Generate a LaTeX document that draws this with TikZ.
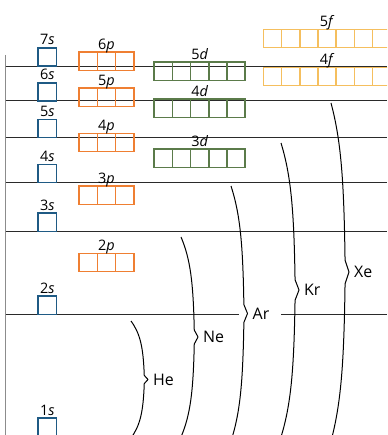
\documentclass[tikz,border=0pt]{standalone}
\usepackage{fontspec}
\setmainfont{Open Sans}
\definecolor{sorb}{HTML}{1F5A84}
\definecolor{porb}{HTML}{EF7F32}
\definecolor{dorb}{HTML}{5B7B4A}
\definecolor{forb}{HTML}{F5BF5E}
\definecolor{levelgray}{HTML}{2A2A2A}
\definecolor{axisgray}{HTML}{8C8C8C}

% row of n orbital cells, top-left corner at (#1,#2)
\newcommand\cellrow[4]{%
  \foreach \k in {1,...,#3}{%
    \draw[orbbox,#4] ({#1+(\k-1)*18.2},#2) rectangle ++(18.2,18.2);
  }%
}
% orbital label centred above a row of cells
\newcommand\orblabel[5]{%
  \node[orbtext] (#5) at ({#1+#3*9.1},{#2-3}) {#4};
}
% long curly brace: top end (#1,#2), tip (#3,#4), bottom end mirrored
\newcommand\shellbrace[5]{%
  \pgfmathsetmacro\bw{#3-#1}%
  \pgfmathsetmacro\bl{#4-#2}%
  \draw[bracestyle] (#1,#2)
    .. controls ({#1+0.55*\bw},{#2+0.22*\bl}) and ({#1+0.72*\bw},{#2+0.45*\bl})
    .. ({#1+0.78*\bw},{#2+0.93*\bl}) -- (#3,#4)
    -- ({#1+0.78*\bw},{#2+1.07*\bl})
    .. controls ({#1+0.72*\bw},{#2+1.55*\bl}) and ({#1+0.55*\bw},{#2+1.78*\bl})
    .. (#1,{#2+2*\bl});
  \node[elemtext] (#5) at ({#3+5},#4) {#5};
}

\begin{document}
\begin{tikzpicture}[x=1bp,y=-1bp,
    orbbox/.style={line width=1.5bp},
    orbtext/.style={anchor=base,inner sep=0pt,font=\fontsize{14.5}{17}\selectfont},
    elemtext/.style={anchor=west,inner sep=0pt,font=\fontsize{16}{18}\selectfont},
    bracestyle/.style={line width=1bp,black,line join=round},
    level/.style={line width=1.2bp,levelgray},
  ]
  \useasboundingbox (0,0) rectangle (387,435);
  \clip (0,0) rectangle (387,435);

  % energy axis and levels
  \draw[line width=1.2bp,axisgray] (5.5,55) -- (5.5,435);
  \foreach \yy in {66.2,100.8,137.6,182.6,231.3}{
    \draw[level] (5.5,\yy) -- (387,\yy);
  }
  \draw[level] (5.5,314.3) -- (239,314.3);
  \draw[level] (281,314.3) -- (387,314.3);

  % s orbitals
  \foreach \ytop/\n in {48/7,82.8/6,119.4/5,164.4/4,213.1/3,296.1/2,418.2/1}{
    \cellrow{38.2}{\ytop}{1}{sorb}
    \orblabel{38.2}{\ytop}{1}{\n\textit{s}}{s\n}
  }
  % p orbitals
  \foreach \ytop/\n in {52.2/6,88.2/5,133.4/4,186.2/3,253.5/2}{
    \cellrow{79.2}{\ytop}{3}{porb}
    \orblabel{79.2}{\ytop}{3}{\n\textit{p}}{p\n}
  }
  % d orbitals
  \foreach \ytop/\n in {62.2/5,99.2/4,149.2/3}{
    \cellrow{154.2}{\ytop}{5}{dorb}
    \orblabel{154.2}{\ytop}{5}{\n\textit{d}}{d\n}
  }
  % f orbitals
  \foreach \ytop/\n in {29.4/5,67.4/4}{
    \cellrow{263.4}{\ytop}{7}{forb}
    \orblabel{263.4}{\ytop}{7}{\n\textit{f}}{f\n}
  }

  % noble-gas shells
  \shellbrace{131}{321}{148}{379.5}{He}
  \shellbrace{181}{237}{198}{337}{Ne}
  \shellbrace{231}{186}{247.5}{313.5}{Ar}
  \shellbrace{281}{143}{299}{290}{Kr}
  \shellbrace{331}{103}{349}{272}{Xe}
\end{tikzpicture}
\end{document}
